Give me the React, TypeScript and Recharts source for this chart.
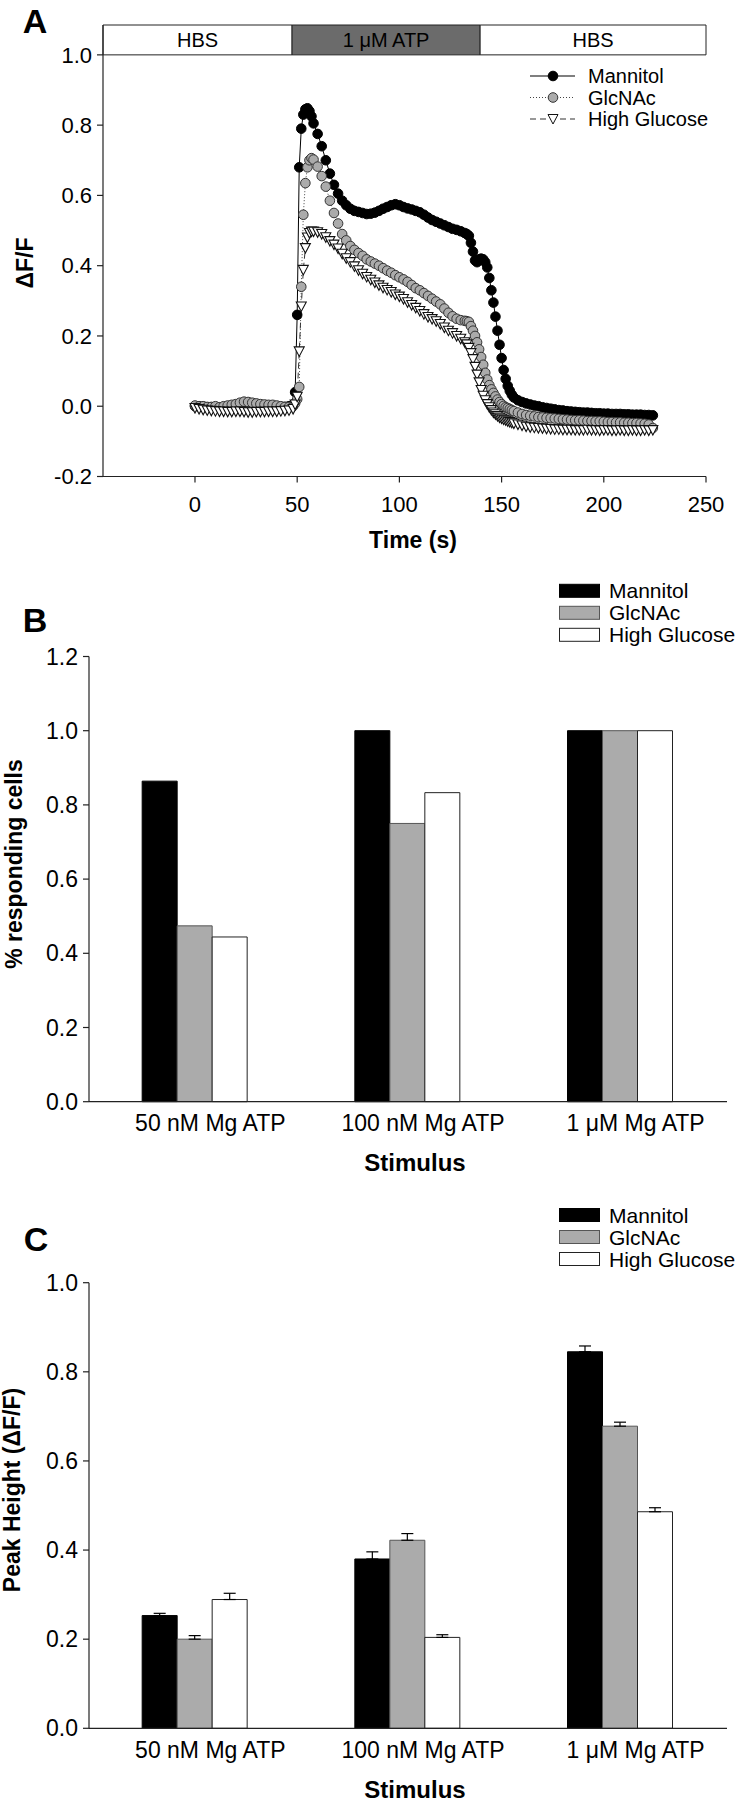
import React from 'react';
import { LineChart, Line, XAxis, YAxis, ReferenceArea, Legend, BarChart, Bar, ErrorBar } from 'recharts';

const FONT = "'Liberation Sans', Arial, Helvetica, sans-serif";

// ---------- Panel A: time course ----------
const timeSec = [
  0, 2, 4, 6, 8, 10, 12, 14, 16, 18, 20, 22, 24, 26, 28, 30, 32, 34, 36, 38, 40, 42, 44, 46, 48,
  49, 50, 51, 52, 53, 54, 55, 56, 57, 58,
  60, 62, 64, 66, 68, 70, 72, 74, 76, 78, 80, 82, 84, 86, 88, 90, 92, 94, 96, 98, 100, 102, 104, 106, 108, 110,
  112, 114, 116, 118, 120, 122, 124, 126, 128, 130, 132,
  133, 134, 135, 136, 137, 138, 139, 140, 141, 142, 143, 144, 145, 146, 147, 148, 149, 150, 151, 152, 153, 154, 155, 156,
  158, 160, 162, 164, 166, 168, 170, 172, 174, 176, 178, 180, 182, 184, 186, 188, 190, 192, 194, 196, 198, 200,
  202, 204, 206, 208, 210, 212, 214, 216, 218, 220, 222, 224,
];

const mannitolTrace = [
  0.0, 0.0, -0.002, -0.003, -0.003, -0.004, -0.004, -0.003, -0.002, 0.0, 0.002, 0.003, 0.002, 0.0, -0.002, -0.003, -0.003, -0.002, -0.002, -0.003, -0.004, -0.003, -0.002, 0.0, 0.005,
  0.04, 0.26, 0.68, 0.79, 0.83, 0.845, 0.848, 0.84, 0.825, 0.805,
  0.775, 0.74, 0.7, 0.662, 0.63, 0.605, 0.585, 0.572, 0.562, 0.556, 0.553, 0.55, 0.547, 0.548, 0.551, 0.556, 0.562, 0.567, 0.572, 0.575, 0.572, 0.567, 0.563, 0.56, 0.556, 0.552,
  0.545, 0.537, 0.53, 0.525, 0.52, 0.515, 0.51, 0.505, 0.502, 0.498, 0.493,
  0.49, 0.485, 0.465, 0.44, 0.415, 0.41, 0.418, 0.42, 0.418, 0.41, 0.395, 0.365, 0.33, 0.295, 0.255, 0.215, 0.175, 0.137, 0.103, 0.078, 0.058, 0.044, 0.033, 0.025,
  0.017, 0.012, 0.008, 0.005, 0.002, 0.0, -0.003, -0.005, -0.007, -0.009, -0.011, -0.012, -0.014, -0.015, -0.016, -0.017, -0.018, -0.018, -0.019, -0.02, -0.02, -0.021,
  -0.021, -0.022, -0.022, -0.022, -0.023, -0.023, -0.024, -0.024, -0.024, -0.025, -0.025, -0.026,
];

const glcnacTrace = [
  0.002, 0.0, 0.0, -0.002, -0.002, 0.0, -0.003, 0.0, 0.002, 0.004, 0.006, 0.01, 0.013, 0.012, 0.01, 0.008, 0.006, 0.005, 0.004, 0.004, 0.002, 0.0, -0.002, -0.002, 0.0,
  0.008, 0.02, 0.055, 0.34, 0.545, 0.635, 0.68, 0.7, 0.706, 0.702,
  0.682, 0.655, 0.625, 0.585, 0.55, 0.52, 0.49, 0.472, 0.456, 0.445, 0.436, 0.428, 0.418, 0.412, 0.406, 0.4, 0.393, 0.386, 0.38, 0.373, 0.367, 0.361, 0.354, 0.345, 0.336, 0.33,
  0.322, 0.314, 0.306, 0.298, 0.29, 0.278, 0.266, 0.256, 0.249, 0.245, 0.243,
  0.242, 0.24, 0.228, 0.215, 0.2, 0.182, 0.162, 0.14, 0.118, 0.095, 0.076, 0.06, 0.048, 0.038, 0.028, 0.019, 0.012, 0.006, 0.001, -0.003, -0.005, -0.008, -0.011, -0.014,
  -0.018, -0.022, -0.025, -0.027, -0.029, -0.031, -0.032, -0.033, -0.034, -0.035, -0.036, -0.037, -0.038, -0.039, -0.04, -0.04, -0.041, -0.042, -0.042, -0.043, -0.043, -0.044,
  -0.045, -0.045, -0.046, -0.046, -0.047, -0.047, -0.048, -0.048, -0.049, -0.05, -0.052, -0.062,
];

const highGlucoseTrace = [
  -0.005, -0.008, -0.01, -0.012, -0.013, -0.014, -0.015, -0.015, -0.016, -0.016, -0.015, -0.015, -0.016, -0.017, -0.017, -0.016, -0.016, -0.016, -0.015, -0.015, -0.015, -0.014, -0.013, -0.012, -0.008,
  0.005, 0.027, 0.156, 0.284, 0.388, 0.45, 0.48, 0.493, 0.497, 0.497,
  0.495, 0.49, 0.481, 0.47, 0.46, 0.449, 0.434, 0.421, 0.41, 0.398, 0.387, 0.377, 0.368, 0.36, 0.352, 0.344, 0.337, 0.331, 0.325, 0.318, 0.312, 0.305, 0.296, 0.288, 0.28, 0.271,
  0.262, 0.254, 0.248, 0.242, 0.234, 0.224, 0.215, 0.208, 0.2, 0.192, 0.182,
  0.176, 0.166, 0.151, 0.134, 0.112, 0.09, 0.068, 0.046, 0.03, 0.017, 0.006, -0.003, -0.011, -0.018, -0.023, -0.028, -0.032, -0.035, -0.038, -0.04, -0.043, -0.045, -0.047, -0.049,
  -0.052, -0.055, -0.058, -0.06, -0.061, -0.062, -0.063, -0.064, -0.065, -0.066, -0.066, -0.067, -0.067, -0.067, -0.068, -0.068, -0.068, -0.067, -0.068, -0.068, -0.069, -0.068,
  -0.068, -0.069, -0.069, -0.068, -0.069, -0.069, -0.068, -0.069, -0.069, -0.068, -0.069, -0.068,
];

const traceTicksX = [0, 50, 100, 150, 200, 250];
const traceTicksY = [-0.2, 0, 0.2, 0.4, 0.6, 0.8, 1.0];

const periodLabels = ['HBS', '1 \u03bcM ATP', 'HBS'];
const periodStarts = [-45, 47.5, 139.5];
const periodEnds = [47.5, 139.5, 250];

const seriesNames = ['Mannitol', 'GlcNAc', 'High Glucose'];

// ---------- Panel B: % responding cells ----------
const stimuli = ['50 nM Mg ATP', '100 nM Mg ATP', '1 \u03bcM Mg ATP'];
const pctMannitol = [0.864, 1.0, 1.0];
const pctGlcNAc = [0.474, 0.75, 1.0];
const pctHighGlucose = [0.444, 0.833, 1.0];
const pctTicks = [0, 0.2, 0.4, 0.6, 0.8, 1.0, 1.2];

// ---------- Panel C: peak height ----------
const peakMannitol = [0.253, 0.38, 0.845];
const semMannitol = [0.005, 0.016, 0.013];
const peakGlcNAc = [0.2, 0.422, 0.678];
const semGlcNAc = [0.008, 0.015, 0.009];
const peakHighGlucose = [0.289, 0.204, 0.486];
const semHighGlucose = [0.014, 0.006, 0.009];
const peakTicks = [0, 0.2, 0.4, 0.6, 0.8, 1.0];

const traceData = timeSec.map((t, i) => ({
  t,
  m: mannitolTrace[i],
  g: glcnacTrace[i],
  h: highGlucoseTrace[i],
}));

const pctData = stimuli.map((s, i) => ({
  stimulus: s,
  mannitol: pctMannitol[i],
  glcnac: pctGlcNAc[i],
  hg: pctHighGlucose[i],
}));

const peakData = stimuli.map((s, i) => ({
  stimulus: s,
  mannitol: peakMannitol[i],
  glcnac: peakGlcNAc[i],
  hg: peakHighGlucose[i],
  mErr: [0, semMannitol[i]],
  gErr: [0, semGlcNAc[i]],
  hErr: [0, semHighGlucose[i]],
}));

const AXIS = '#222';
const GREY_FILL = '#ababab';
const GREY_STROKE = '#555';

const BlackDot = (props: any) => {
  const { cx, cy, index } = props;
  if (cx == null || cy == null) return <g key={`mx-${index}`} />;
  return <circle key={`m-${index}`} cx={cx} cy={cy} r={4.8} fill="#000" stroke="#000" strokeWidth={1} />;
};

const GreyDot = (props: any) => {
  const { cx, cy, index } = props;
  if (cx == null || cy == null) return <g key={`gx-${index}`} />;
  return <circle key={`g-${index}`} cx={cx} cy={cy} r={4.8} fill={GREY_FILL} stroke="#333" strokeWidth={1} />;
};

const TriangleDot = (props: any) => {
  const { cx, cy, index } = props;
  if (cx == null || cy == null) return <g key={`hx-${index}`} />;
  const pts = `${cx - 5},${cy - 4.5} ${cx + 5},${cy - 4.5} ${cx},${cy + 5}`;
  return <polygon key={`h-${index}`} points={pts} fill="#fff" stroke="#111" strokeWidth={1.1} />;
};

const TraceLegend = () => {
  const rows = [0, 1, 2];
  return (
    <svg width={200} height={70} style={{ display: 'block', overflow: 'visible' }}>
      {rows.map((i) => {
        const cy = 12 + i * 21.5;
        return (
          <g key={i}>
            {i === 0 && <line x1={5} x2={50} y1={cy} y2={cy} stroke="#000" strokeWidth={1.2} />}
            {i === 1 && <line x1={5} x2={50} y1={cy} y2={cy} stroke="#444" strokeWidth={1.2} strokeDasharray="1 2" />}
            {i === 2 && <line x1={5} x2={50} y1={cy} y2={cy} stroke="#333" strokeWidth={1.2} strokeDasharray="6 4" />}
            {i === 0 && <circle cx={28} cy={cy} r={4.8} fill="#000" stroke="#000" />}
            {i === 1 && <circle cx={28} cy={cy} r={4.8} fill={GREY_FILL} stroke="#333" />}
            {i === 2 && <polygon points={`${23},${cy - 4.5} ${33},${cy - 4.5} ${28},${cy + 5}`} fill="#fff" stroke="#111" />}
            <text x={63} y={cy + 7} fontSize={20} fontFamily={FONT} fill="#000">{seriesNames[i]}</text>
          </g>
        );
      })}
    </svg>
  );
};

const makeBarLegend = (firstRowTop: number) => () => {
  const fills = ['#000', GREY_FILL, '#fff'];
  const strokes = ['#000', GREY_STROKE, '#222'];
  return (
    <svg width={190} height={75} style={{ display: 'block', overflow: 'visible' }}>
      {[0, 1, 2].map((i) => {
        const top = firstRowTop + i * 22;
        return (
          <g key={i}>
            <rect x={0.5} y={top} width={40} height={13} fill={fills[i]} stroke={strokes[i]} strokeWidth={1} />
            <text x={50} y={top + 14} fontSize={21} fontFamily={FONT} fill="#000">{seriesNames[i]}</text>
          </g>
        );
      })}
    </svg>
  );
};

const CategoryTick = (props: any) => {
  const { x, y, payload } = props;
  return (
    <text x={x + 15} y={y} dy="0.71em" textAnchor="middle" fontSize={23} fontFamily={FONT} fill="#000">
      {payload.value}
    </text>
  );
};

const Title = ({ x, y, text, size, rotate }: { x: number; y: number; text: string; size: number; rotate?: boolean }) => (
  <div
    style={{
      position: 'absolute',
      left: x,
      top: y,
      transform: `translate(-50%, -50%)${rotate ? ' rotate(-90deg)' : ''}`,
      fontFamily: FONT,
      fontWeight: 'bold',
      fontSize: size,
      lineHeight: 1,
      whiteSpace: 'nowrap',
      color: '#000',
    }}
  >
    {text}
  </div>
);

const tickStyle = (size: number) => ({ fontSize: size, fill: '#000', fontFamily: FONT });

export default function App() {
  return (
    <div style={{ position: 'absolute', left: 0, top: 0, width: 736, height: 1800, background: '#fff' }}>
      {/* Panel A */}
      <div style={{ position: 'absolute', left: 0, top: 0 }}>
        <LineChart width={736} height={560} data={traceData} margin={{ top: 25, right: 30, bottom: 0, left: 0 }}>
          <XAxis
            type="number"
            dataKey="t"
            domain={[-45, 250]}
            ticks={traceTicksX}
            height={83.5}
            tickSize={6}
            tickMargin={14}
            tick={tickStyle(22)}
            axisLine={{ stroke: AXIS, strokeWidth: 1.2 }}
            tickLine={{ stroke: AXIS, strokeWidth: 1.2 }}
            allowDataOverflow
          />
          <YAxis
            type="number"
            domain={[-0.2, 1.085]}
            ticks={traceTicksY}
            tickFormatter={(v: number) => v.toFixed(1)}
            width={103}
            tickSize={6}
            tickMargin={5}
            tick={tickStyle(22)}
            axisLine={{ stroke: AXIS, strokeWidth: 1.2 }}
            tickLine={{ stroke: AXIS, strokeWidth: 1.2 }}
            allowDataOverflow
          />
          {periodLabels.map((lab, i) => (
            <ReferenceArea
              key={`p-${i}`}
              x1={periodStarts[i]}
              x2={periodEnds[i]}
              y1={1.0}
              y2={1.085}
              fill={i === 1 ? '#6b6b6b' : '#fff'}
              fillOpacity={1}
              stroke="#222"
              strokeWidth={1}
              ifOverflow="visible"
              label={{ value: lab, position: 'center', fontSize: 20, fill: '#000', fontFamily: FONT }}
            />
          ))}
          <Line
            dataKey="m"
            type="linear"
            stroke="#000"
            strokeWidth={1}
            dot={BlackDot}
            activeDot={false}
            isAnimationActive={false}
          />
          <Line
            dataKey="g"
            type="linear"
            stroke="#444"
            strokeWidth={1}
            strokeDasharray="1 2"
            dot={GreyDot}
            activeDot={false}
            isAnimationActive={false}
          />
          <Line
            dataKey="h"
            type="linear"
            stroke="#333"
            strokeWidth={1}
            strokeDasharray="6 4"
            dot={TriangleDot}
            activeDot={false}
            isAnimationActive={false}
          />
          <Legend
            layout="vertical"
            align="center"
            verticalAlign="middle"
            content={TraceLegend}
            wrapperStyle={{ left: 525, top: 64, width: 200, height: 70 }}
          />
        </LineChart>
      </div>

      {/* Panel B */}
      <div style={{ position: 'absolute', left: 0, top: 560 }}>
        <BarChart
          width={736}
          height={640}
          data={pctData}
          margin={{ top: 96.5, right: 9, bottom: 38.3, left: 0 }}
          barCategoryGap="25%"
          barGap={0}
        >
          <XAxis
            dataKey="stimulus"
            height={60}
            tickLine={false}
            tickSize={0}
            tickMargin={13}
            tick={<CategoryTick />}
            axisLine={{ stroke: AXIS, strokeWidth: 1.2 }}
          />
          <YAxis
            type="number"
            domain={[0, 1.2]}
            ticks={pctTicks}
            tickFormatter={(v: number) => v.toFixed(1)}
            width={89}
            tickSize={6}
            tickMargin={5}
            tick={tickStyle(23)}
            axisLine={{ stroke: AXIS, strokeWidth: 1.2 }}
            tickLine={{ stroke: AXIS, strokeWidth: 1.2 }}
          />
          <Bar dataKey="mannitol" fill="#000" stroke="#000" strokeWidth={1} isAnimationActive={false} />
          <Bar dataKey="glcnac" fill={GREY_FILL} stroke={GREY_STROKE} strokeWidth={1} isAnimationActive={false} />
          <Bar dataKey="hg" fill="#fff" stroke="#222" strokeWidth={1} isAnimationActive={false} />
          <Legend
            layout="vertical"
            align="center"
            verticalAlign="middle"
            content={makeBarLegend(4.3)}
            wrapperStyle={{ left: 559, top: 20, width: 190, height: 75 }}
          />
        </BarChart>
      </div>

      {/* Panel C */}
      <div style={{ position: 'absolute', left: 0, top: 1200 }}>
        <BarChart
          width={736}
          height={600}
          data={peakData}
          margin={{ top: 82.7, right: 9, bottom: 11.7, left: 0 }}
          barCategoryGap="25%"
          barGap={0}
        >
          <XAxis
            dataKey="stimulus"
            height={60}
            tickLine={false}
            tickSize={0}
            tickMargin={13}
            tick={<CategoryTick />}
            axisLine={{ stroke: AXIS, strokeWidth: 1.2 }}
          />
          <YAxis
            type="number"
            domain={[0, 1.0]}
            ticks={peakTicks}
            tickFormatter={(v: number) => v.toFixed(1)}
            width={89}
            tickSize={6}
            tickMargin={5}
            tick={tickStyle(23)}
            axisLine={{ stroke: AXIS, strokeWidth: 1.2 }}
            tickLine={{ stroke: AXIS, strokeWidth: 1.2 }}
          />
          <Bar dataKey="mannitol" fill="#000" stroke="#000" strokeWidth={1} isAnimationActive={false}>
            <ErrorBar dataKey="mErr" width={6} stroke="#000" strokeWidth={1.2} direction="y" isAnimationActive={false} />
          </Bar>
          <Bar dataKey="glcnac" fill={GREY_FILL} stroke={GREY_STROKE} strokeWidth={1} isAnimationActive={false}>
            <ErrorBar dataKey="gErr" width={6} stroke="#000" strokeWidth={1.2} direction="y" isAnimationActive={false} />
          </Bar>
          <Bar dataKey="hg" fill="#fff" stroke="#222" strokeWidth={1} isAnimationActive={false}>
            <ErrorBar dataKey="hErr" width={6} stroke="#000" strokeWidth={1.2} direction="y" isAnimationActive={false} />
          </Bar>
          <Legend
            layout="vertical"
            align="center"
            verticalAlign="middle"
            content={makeBarLegend(6.5)}
            wrapperStyle={{ left: 559, top: 2, width: 190, height: 75 }}
          />
        </BarChart>
      </div>

      {/* Panel letters and axis titles */}
      <Title x={35} y={21} text="A" size={34} />
      <Title x={25} y={263} text={'\u0394F/F'} size={23} rotate />
      <Title x={413} y={540} text="Time (s)" size={23} />

      <Title x={35} y={620} text="B" size={34} />
      <Title x={14} y={864} text="% responding cells" size={23} rotate />
      <Title x={415} y={1163} text="Stimulus" size={24} />

      <Title x={36} y={1239} text="C" size={34} />
      <Title x={12} y={1490} text={'Peak Height (\u0394F/F)'} size={23} rotate />
      <Title x={415} y={1790} text="Stimulus" size={24} />
    </div>
  );
}
